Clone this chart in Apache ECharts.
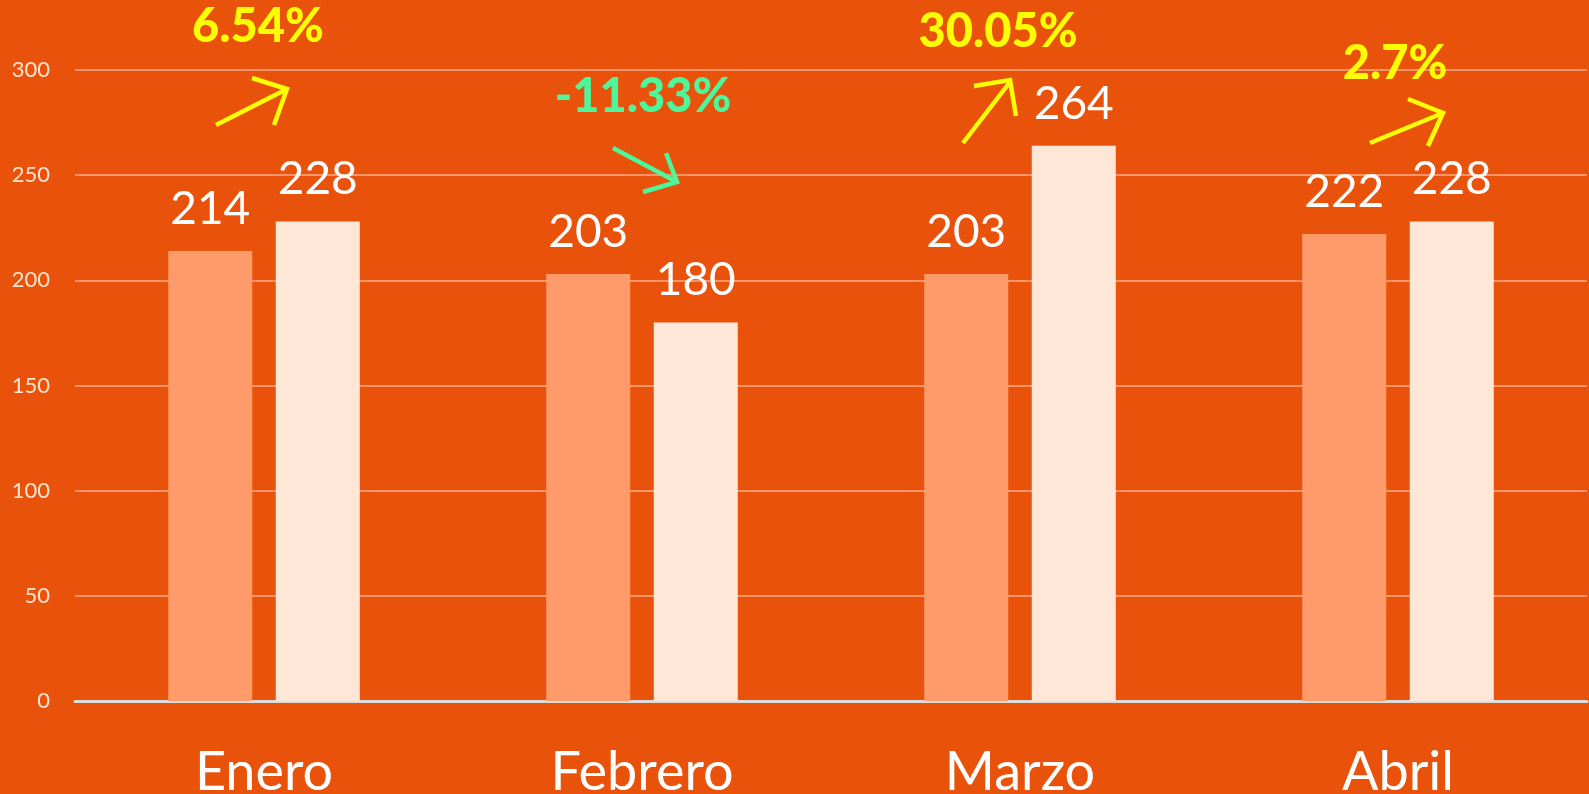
<!DOCTYPE html>
<html>
<head>
<meta charset="utf-8">
<script src="https://cdn.jsdelivr.net/npm/echarts@6/dist/echarts.min.js"></script>
<style>
  html, body { margin: 0; padding: 0; background: #E9520A; }
  #chart { width: 1589px; height: 794px; }
</style>
</head>
<body>
<div id="chart"></div>
<script>
// datos
var aMeses = ['Enero', 'Febrero', 'Marzo', 'Abril'];
var aAnterior = [214, 203, 203, 222];
var aActual = [228, 180, 264, 228];
var aTicks = [0, 50, 100, 150, 200, 250, 300];

// colocación de las anotaciones (desplazamiento respecto al centro de la categoría)
var aNotas = [
    { dx: -6, ty: 27, shaft: [[-48, 125], [23, 89]], head: [[-12, 78], [23, 89], [10, 125]] },
    { dx: 1, ty: 97, shaft: [[-29, 148], [35, 182]], head: [[24, 153], [35, 182], [1, 192]] },
    { dx: -22, ty: 32, shaft: [[-57, 143], [-10, 82]], head: [[-46, 86], [-10, 80], [-4, 116]] },
    { dx: -3, ty: 64, shaft: [[-28, 143], [45, 113]], head: [[10, 99], [45, 113], [30, 146]] }
];

var oChart = echarts.init(document.getElementById('chart'));

var oLabel = {
    show: true,
    position: 'top',
    distance: 19,
    color: '#ffffff',
    fontFamily: 'Lato',
    fontSize: 46
};

oChart.setOption({
    backgroundColor: '#E9520A',
    animation: false,
    grid: { left: 75, right: 2, top: 70, bottom: 93, outerBoundsMode: 'none' },
    xAxis: {
        type: 'category',
        data: aMeses,
        axisLine: { lineStyle: { color: '#DCDCDC', width: 3 } },
        axisTick: { show: false },
        axisLabel: {
            color: '#ffffff',
            fontFamily: 'Lato',
            fontSize: 54,
            margin: 45
        }
    },
    yAxis: {
        type: 'value',
        min: aTicks[0],
        max: aTicks[aTicks.length - 1],
        interval: 50,
        axisLine: { show: false },
        axisTick: { show: false },
        axisLabel: {
            color: '#FFE4D2',
            fontFamily: 'Lato',
            fontSize: 22,
            margin: 25
        },
        splitLine: { lineStyle: { color: '#F8946A', width: 2 } }
    },
    series: [
        {
            type: 'bar',
            data: aAnterior,
            barWidth: 84,
            barGap: '28%',
            itemStyle: { color: '#FF9A6B' },
            label: oLabel
        },
        {
            type: 'bar',
            data: aActual,
            barWidth: 84,
            itemStyle: { color: '#FFE7D7' },
            label: oLabel
        }
    ]
});

// anotaciones de variación
var aGraficos = [];
aMeses.forEach(function (cMes, i) {
    var nVar = (aActual[i] / aAnterior[i] - 1) * 100;
    var cColor = nVar < 0 ? '#4DF59B' : '#FFFF00';
    var nX = oChart.convertToPixel({ xAxisIndex: 0 }, cMes);
    var oNota = aNotas[i];
    var fPts = function (a) {
        return a.map(function (p) { return [nX + p[0], p[1]]; });
    };
    aGraficos.push({
        type: 'text',
        x: nX + oNota.dx,
        y: oNota.ty,
        style: {
            text: parseFloat(nVar.toFixed(2)) + '%',
            fill: cColor,
            font: '900 47px Lato',
            align: 'center',
            verticalAlign: 'middle'
        }
    });
    aGraficos.push({
        type: 'polyline',
        shape: { points: fPts(oNota.shaft) },
        style: { stroke: cColor, lineWidth: 4.5, fill: null }
    });
    aGraficos.push({
        type: 'polyline',
        shape: { points: fPts(oNota.head) },
        style: { stroke: cColor, lineWidth: 4.5, fill: null }
    });
});
oChart.setOption({ graphic: aGraficos });
</script>
</body>
</html>
